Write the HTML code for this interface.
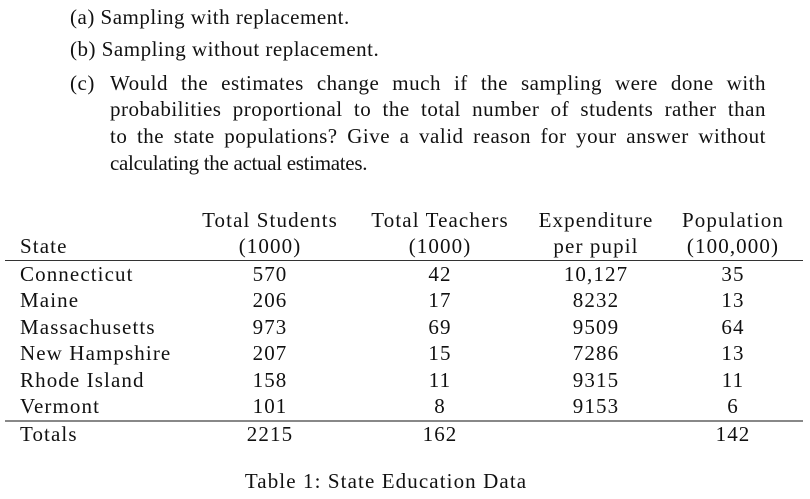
<!DOCTYPE html>
<html><head><meta charset="utf-8"><style>
body{margin:0;width:810px;height:499px;background:#fff;position:relative;overflow:hidden;font-family:"Liberation Serif",serif;font-size:21px;color:#111}
.t{position:absolute;line-height:20px;white-space:nowrap;letter-spacing:0.5px}
.tb{letter-spacing:1.1px}
.j{text-align:justify;text-align-last:justify;white-space:normal}
.c{transform:translateX(-50%);text-align:center}
.rule{position:absolute;left:5px;width:798px;height:1px;background:#333}
</style></head><body>
<div class="t" style="left:70px;top:7px">(a) Sampling with replacement.</div>
<div class="t" style="left:70px;top:39px">(b) Sampling without replacement.</div>
<div class="t" style="left:70px;top:73px">(c)</div>
<div class="t j" style="left:110px;top:73px;width:656px">Would the estimates change much if the sampling were done with</div>
<div class="t j" style="left:110px;top:99px;width:656px">probabilities proportional to the total number of students rather than</div>
<div class="t j" style="left:110px;top:126px;width:656px">to the state populations? Give a valid reason for your answer without</div>
<div class="t" style="left:110px;top:153px;letter-spacing:-0.3px">calculating the actual estimates.</div>

<div id="tbl"></div>
<div class="rule" style="top:260px"></div>
<div class="rule" style="top:420px;height:2px;background:#888"></div>
<div class="t c tb" style="left:386px;top:471px">Table 1: State Education Data</div>

<script>
const states=["Connecticut","Maine","Massachusetts","New Hampshire","Rhode Island","Vermont"];
const students=["570","206","973","207","158","101"];
const teachers=["42","17","69","15","11","8"];
const expend=["10,127","8232","9509","7286","9315","9153"];
const pop=["35","13","64","13","11","6"];
const totals=["2215","162","","142"];
const colX=[270,440,596,733];
const body=document.body;
function add(txt,x,y,center,name){
  const d=document.createElement('div');
  d.className='t tb'+(center?' c':'');
  d.style.left=x+'px';d.style.top=(y-10)+'px';d.textContent=txt;
  
  
  body.appendChild(d);
}
add("State",20,246,false,"header-state");
[["Total Students","(1000)"],["Total Teachers","(1000)"],["Expenditure","per pupil"],["Population","(100,000)"]].forEach((h,i)=>{
  add(h[0],colX[i],220,true,"header-line1");
  add(h[1],colX[i],246,true,"header-line2");
});
const rowY=[274,300,327,353,380,406];
states.forEach((s,r)=>{
  add(s,20,rowY[r],false,"state-name");
  [students,teachers,expend,pop].forEach((arr,i)=>add(arr[r],colX[i],rowY[r],true,"cell-value"));
});
add("Totals",20,434,false,"totals-label");
totals.forEach((v,i)=>{if(v)add(v,colX[i],434,true,"total-value");});
</script>
</body></html>
